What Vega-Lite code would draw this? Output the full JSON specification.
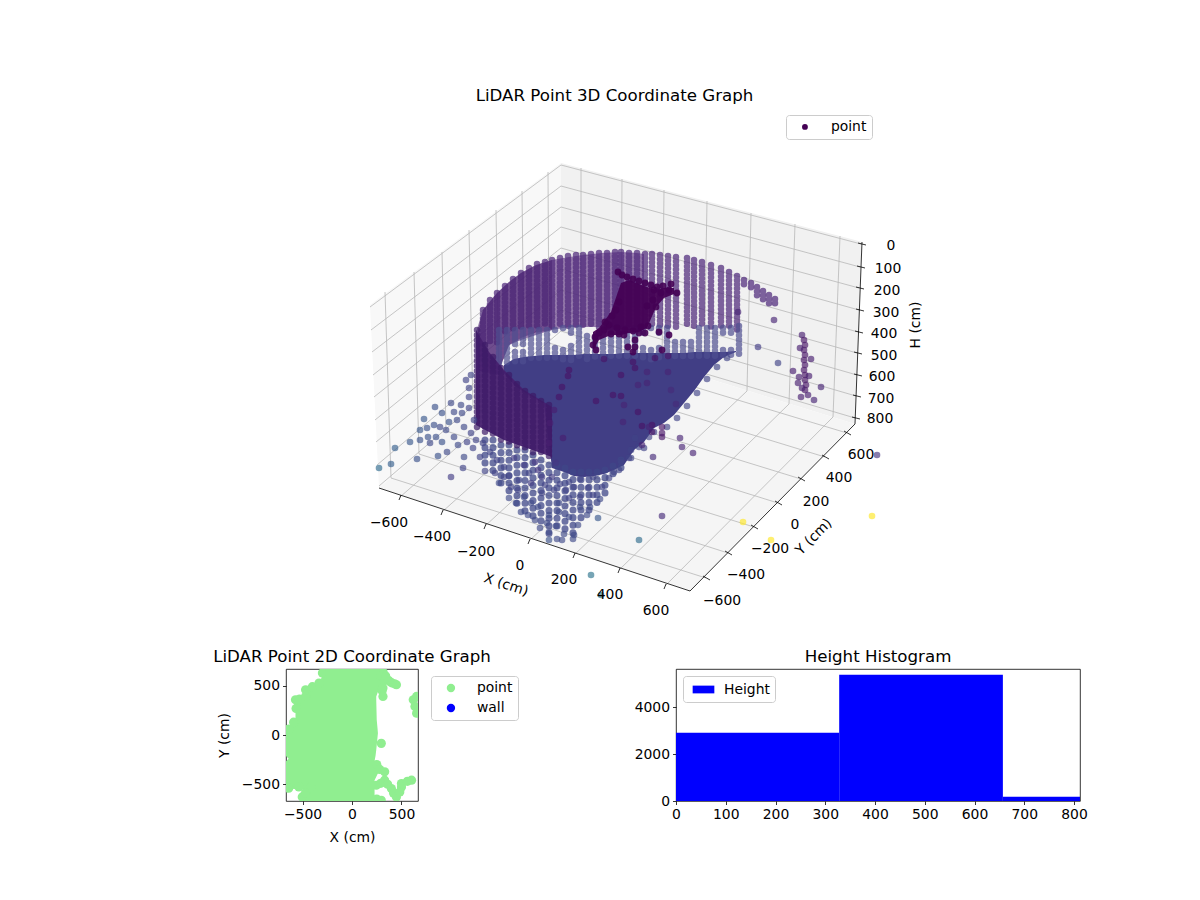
{
  "$schema": "https://vega.github.io/schema/vega-lite/v6.json",
  "background": "white",
  "padding": {"left": 212, "top": 88, "right": 0, "bottom": 50},
  "bounds": "flush",
  "spacing": 19,
  "resolve": {"scale": {"color": "independent"}},
  "config": {
    "font": "DejaVu Sans",
    "view": {"stroke": "#000", "strokeWidth": 0.8},
    "title": {"fontSize": 16.67, "fontWeight": "normal", "color": "#000", "font": "DejaVu Sans"},
    "axis": {"grid": false, "domain": false, "tickColor": "#000", "tickSize": 3.5, "tickWidth": 0.8, "labelFontSize": 13.9, "labelColor": "#000", "labelFont": "DejaVu Sans", "titleFontSize": 13.9, "titleFontWeight": "normal", "titleColor": "#000", "titleFont": "DejaVu Sans", "labelPadding": 3, "labelOverlap": false, "labelFlush": false},
    "legend": {"labelFontSize": 13.9, "labelColor": "#000", "labelFont": "DejaVu Sans", "fillColor": "#fff", "strokeColor": "#ccc", "cornerRadius": 3}
  },
  "datasets": {
    "grid": [
      {"x":582,"y":168,"x2":582,"y2":339},{"x":623,"y":179,"x2":622,"y2":352},{"x":665,"y":190,"x2":663,"y2":364},{"x":708,"y":201,"x2":705,"y2":377},{"x":752,"y":213,"x2":748,"y2":391},{"x":796,"y":224,"x2":790,"y2":404},{"x":841,"y":236,"x2":834,"y2":417},
      {"x":386,"y":292,"x2":392,"y2":478},{"x":415,"y":272,"x2":420,"y2":454},{"x":443,"y":252,"x2":447,"y2":431},{"x":470,"y":230,"x2":474,"y2":408},{"x":497,"y":210,"x2":500,"y2":386},{"x":523,"y":191,"x2":525,"y2":365},{"x":549,"y":172,"x2":550,"y2":343},
      {"x":401,"y":497,"x2":582,"y2":339},{"x":443,"y":512,"x2":622,"y2":352},{"x":486,"y":526,"x2":663,"y2":364},{"x":530,"y":541,"x2":705,"y2":377},{"x":575,"y":555,"x2":748,"y2":391},{"x":620,"y":570,"x2":790,"y2":404},{"x":666,"y":586,"x2":834,"y2":417},
      {"x":707,"y":578,"x2":392,"y2":478},{"x":729,"y":553,"x2":420,"y2":454},{"x":755,"y":527,"x2":447,"y2":431},{"x":779,"y":503,"x2":474,"y2":408},{"x":802,"y":479,"x2":500,"y2":386},{"x":826,"y":457,"x2":525,"y2":365},{"x":848,"y":433,"x2":550,"y2":343},
      {"x":862,"y":244,"x2":562,"y2":165},{"x":861,"y":267,"x2":562,"y2":186},{"x":860,"y":288,"x2":562,"y2":207},{"x":860,"y":310,"x2":562,"y2":227},{"x":859,"y":332,"x2":562,"y2":248},{"x":858,"y":353,"x2":562,"y2":269},{"x":858,"y":375,"x2":562,"y2":290},{"x":857,"y":396,"x2":562,"y2":310},{"x":856,"y":418,"x2":562,"y2":331},
      {"x":371,"y":307,"x2":562,"y2":165},{"x":372,"y":330,"x2":562,"y2":186},{"x":373,"y":352,"x2":562,"y2":207},{"x":374,"y":375,"x2":562,"y2":227},{"x":375,"y":397,"x2":562,"y2":248},{"x":376,"y":420,"x2":562,"y2":269},{"x":377,"y":442,"x2":562,"y2":290},{"x":378,"y":465,"x2":562,"y2":310},{"x":380,"y":486,"x2":562,"y2":331}
    ],
    "axes": [
      {"x":380,"y":488,"x2":691,"y2":591},{"x":691,"y":591,"x2":856,"y2":424},{"x":863,"y":242,"x2":856,"y2":424},
      {"x":402,"y":495,"x2":400,"y2":500},{"x":444,"y":510,"x2":442,"y2":515},{"x":487,"y":524,"x2":485,"y2":529},{"x":531,"y":539,"x2":529,"y2":544},{"x":576,"y":553,"x2":574,"y2":558},{"x":621,"y":568,"x2":619,"y2":573},{"x":667,"y":584,"x2":665,"y2":589},
      {"x":704,"y":576,"x2":711,"y2":580},{"x":726,"y":551,"x2":733,"y2":555},{"x":752,"y":525,"x2":759,"y2":529},{"x":776,"y":501,"x2":783,"y2":505},{"x":799,"y":477,"x2":806,"y2":481},{"x":823,"y":455,"x2":830,"y2":459},{"x":845,"y":431,"x2":852,"y2":435},
      {"x":859,"y":243,"x2":867,"y2":245},{"x":858,"y":266,"x2":866,"y2":268},{"x":857,"y":287,"x2":865,"y2":289},{"x":857,"y":309,"x2":865,"y2":311},{"x":856,"y":331,"x2":864,"y2":333},{"x":855,"y":352,"x2":863,"y2":354},{"x":855,"y":374,"x2":863,"y2":376},{"x":854,"y":395,"x2":862,"y2":397},{"x":853,"y":417,"x2":861,"y2":419}
    ],
    "ticklabels": [
      {"x":390,"y":523,"t":"−600"},{"x":433,"y":537,"t":"−400"},{"x":477,"y":552,"t":"−200"},{"x":521,"y":566,"t":"0"},{"x":565,"y":580,"t":"200"},{"x":611,"y":595,"t":"400"},{"x":657,"y":611,"t":"600"},
      {"x":723,"y":601,"t":"−600"},{"x":747,"y":575,"t":"−400"},{"x":771,"y":549,"t":"−200"},{"x":796,"y":525,"t":"0"},{"x":817,"y":502,"t":"200"},{"x":840,"y":478,"t":"400"},{"x":862,"y":455,"t":"600"},
      {"x":892,"y":246,"t":"0"},{"x":889,"y":269,"t":"100"},{"x":888,"y":291,"t":"200"},{"x":887,"y":313,"t":"300"},{"x":885,"y":334,"t":"400"},{"x":885,"y":356,"t":"500"},{"x":883,"y":377,"t":"600"},{"x":882,"y":399,"t":"700"},{"x":881,"y":419,"t":"800"}
    ],
    "wallback": [
      {"x":479,"y":330,"y2":370},{"x":484,"y":310,"y2":372},{"x":498,"y":293,"y2":375},{"x":510,"y":282,"y2":345},{"x":522,"y":273,"y2":340},{"x":537,"y":265,"y2":335},{"x":553,"y":260,"y2":330},{"x":570,"y":257,"y2":327},{"x":584,"y":255,"y2":327},{"x":603,"y":253,"y2":327},{"x":622,"y":252,"y2":327},{"x":638,"y":253,"y2":327},{"x":645,"y":254,"y2":327}
    ],
    "wallarc": [
      {"x":477,"y":332,"y2":350},{"x":484,"y":310,"y2":365},{"x":498,"y":293,"y2":375},{"x":510,"y":282,"y2":345},{"x":522,"y":273,"y2":338},{"x":535,"y":266,"y2":333},{"x":553,"y":260,"y2":330}
    ],
    "wallcols": [
      {"x":484,"y":310,"y2":345},{"x":491,"y":300,"y2":345},{"x":498,"y":293,"y2":345},{"x":506,"y":286,"y2":335},{"x":514,"y":279,"y2":330},{"x":522,"y":273,"y2":327},{"x":530,"y":268,"y2":327},{"x":538,"y":264,"y2":327},{"x":546,"y":262,"y2":327},{"x":553,"y":260,"y2":327},{"x":561,"y":258,"y2":327},{"x":569,"y":256,"y2":327},{"x":577,"y":255,"y2":327},{"x":584,"y":255,"y2":327},{"x":592,"y":254,"y2":327},{"x":600,"y":253,"y2":327},{"x":608,"y":253,"y2":327},{"x":616,"y":252,"y2":327},{"x":622,"y":252,"y2":327},{"x":630,"y":253,"y2":327},{"x":638,"y":253,"y2":327},{"x":646,"y":254,"y2":327},{"x":653,"y":254,"y2":327},{"x":661,"y":255,"y2":327},{"x":669,"y":256,"y2":327},{"x":677,"y":257,"y2":327},{"x":688,"y":258,"y2":327},{"x":695,"y":260,"y2":327},{"x":703,"y":262,"y2":327},{"x":712,"y":265,"y2":327},{"x":722,"y":268,"y2":327},{"x":730,"y":272,"y2":328},{"x":738,"y":276,"y2":330},{"x":745,"y":280,"y2":288},{"x":752,"y":283,"y2":290},{"x":758,"y":287,"y2":296},{"x":764,"y":291,"y2":300},{"x":770,"y":295,"y2":304},{"x":776,"y":299,"y2":306}
    ],
    "band": [
      {"x":500,"y":330,"y2":372},{"x":508,"y":330,"y2":366},{"x":516,"y":330,"y2":345},{"x":516,"y":352,"y2":362},{"x":524,"y":330,"y2":345},{"x":524,"y":352,"y2":362},{"x":532,"y":330,"y2":361},{"x":540,"y":330,"y2":360},{"x":548,"y":330,"y2":360},{"x":556,"y":330,"y2":333},{"x":556,"y":348,"y2":360},{"x":564,"y":350,"y2":360},{"x":564,"y":328,"y2":331},{"x":572,"y":328,"y2":334},{"x":572,"y":346,"y2":360},{"x":580,"y":328,"y2":360},{"x":588,"y":336,"y2":360},{"x":596,"y":338,"y2":360},{"x":604,"y":334,"y2":360},{"x":612,"y":328,"y2":360},{"x":620,"y":328,"y2":360},{"x":628,"y":328,"y2":360},{"x":636,"y":328,"y2":360},{"x":644,"y":328,"y2":334},{"x":644,"y":348,"y2":360},{"x":652,"y":350,"y2":360},{"x":652,"y":328,"y2":331},{"x":660,"y":328,"y2":334},{"x":660,"y":348,"y2":360},{"x":668,"y":328,"y2":360},{"x":676,"y":342,"y2":360},{"x":684,"y":342,"y2":360},{"x":692,"y":342,"y2":360},{"x":700,"y":328,"y2":360},{"x":708,"y":328,"y2":358},{"x":716,"y":328,"y2":358},{"x":724,"y":328,"y2":336},{"x":724,"y":350,"y2":358},{"x":732,"y":328,"y2":334},{"x":732,"y":350,"y2":357},{"x":740,"y":326,"y2":358}
    ],
    "lowcols": [
      {"x":486,"y":440,"y2":465},{"x":494,"y":440,"y2":472},{"x":502,"y":445,"y2":490},{"x":510,"y":445,"y2":498},{"x":518,"y":450,"y2":505},{"x":526,"y":450,"y2":513},{"x":534,"y":455,"y2":520},{"x":542,"y":460,"y2":527},{"x":550,"y":465,"y2":535},{"x":558,"y":465,"y2":530},{"x":566,"y":468,"y2":535},{"x":574,"y":472,"y2":535},{"x":582,"y":472,"y2":525},{"x":590,"y":472,"y2":515},{"x":598,"y":472,"y2":510},{"x":606,"y":470,"y2":495},{"x":614,"y":466,"y2":480},{"x":622,"y":460,"y2":472}
    ],
    "floor": [
      {"x":505,"y":365,"y2":373},{"x":515,"y":359,"y2":385},{"x":525,"y":357,"y2":392},{"x":535,"y":356,"y2":398},{"x":545,"y":355,"y2":404},{"x":553,"y":355,"y2":468},{"x":565,"y":355,"y2":472},{"x":575,"y":355,"y2":476},{"x":585,"y":354,"y2":477},{"x":595,"y":354,"y2":476},{"x":605,"y":354,"y2":474},{"x":615,"y":354,"y2":470},{"x":625,"y":353,"y2":465},{"x":635,"y":353,"y2":450},{"x":645,"y":353,"y2":442},{"x":655,"y":353,"y2":428},{"x":665,"y":353,"y2":423},{"x":675,"y":353,"y2":415},{"x":685,"y":353,"y2":403},{"x":695,"y":352,"y2":391},{"x":705,"y":352,"y2":377},{"x":715,"y":352,"y2":365},{"x":725,"y":352,"y2":357},{"x":737,"y":351,"y2":352}
    ],
    "wallleft": [
      {"x":477,"y":330,"y2":425},{"x":490,"y":352,"y2":432},{"x":505,"y":370,"y2":440},{"x":525,"y":390,"y2":447},{"x":553,"y":407,"y2":457}
    ],
    "leftcols": [
      {"x":478,"y":330,"y2":428},{"x":486,"y":345,"y2":433},{"x":494,"y":357,"y2":436},{"x":502,"y":368,"y2":441},{"x":510,"y":375,"y2":444},{"x":518,"y":384,"y2":448},{"x":526,"y":391,"y2":450},{"x":534,"y":396,"y2":453},{"x":542,"y":401,"y2":456},{"x":550,"y":405,"y2":459}
    ],
    "pts": [
      {"x":380,"y":468,"c":0.34},{"x":392,"y":464,"c":0.3},{"x":396,"y":448,"c":0.3},{"x":411,"y":442,"c":0.27},{"x":418,"y":459,"c":0.25},{"x":421,"y":430,"c":0.27},{"x":421,"y":440,"c":0.25},{"x":425,"y":419,"c":0.27},{"x":429,"y":437,"c":0.25},{"x":431,"y":443,"c":0.22},{"x":439,"y":456,"c":0.25},{"x":436,"y":407,"c":0.25},{"x":443,"y":413,"c":0.25},{"x":441,"y":427,"c":0.22},{"x":443,"y":442,"c":0.25},{"x":448,"y":452,"c":0.22},{"x":452,"y":477,"c":0.18},{"x":450,"y":422,"c":0.25},{"x":455,"y":412,"c":0.22},{"x":462,"y":405,"c":0.22},{"x":463,"y":413,"c":0.22},{"x":465,"y":427,"c":0.22},{"x":465,"y":457,"c":0.22},{"x":464,"y":468,"c":0.2},{"x":470,"y":388,"c":0.2},{"x":470,"y":397,"c":0.2},{"x":472,"y":433,"c":0.2},{"x":474,"y":448,"c":0.2},{"x":481,"y":457,"c":0.2},{"x":486,"y":471,"c":0.2},{"x":496,"y":473,"c":0.2},{"x":477,"y":440,"c":0.2},{"x":484,"y":443,"c":0.2},{"x":491,"y":452,"c":0.2},{"x":498,"y":460,"c":0.2},{"x":505,"y":467,"c":0.2},{"x":500,"y":483,"c":0.22},{"x":505,"y":477,"c":0.2},{"x":512,"y":487,"c":0.2},{"x":510,"y":498,"c":0.22},{"x":517,"y":503,"c":0.22},{"x":522,"y":512,"c":0.22},{"x":529,"y":515,"c":0.22},{"x":536,"y":520,"c":0.22},{"x":541,"y":528,"c":0.22},{"x":550,"y":540,"c":0.25},{"x":558,"y":539,"c":0.22},{"x":563,"y":540,"c":0.22},{"x":574,"y":539,"c":0.22},{"x":565,"y":534,"c":0.22},{"x":575,"y":535,"c":0.22},{"x":550,"y":532,"c":0.22},{"x":557,"y":526,"c":0.22},{"x":548,"y":523,"c":0.22},{"x":539,"y":507,"c":0.22},{"x":550,"y":515,"c":0.22},{"x":560,"y":512,"c":0.22},{"x":570,"y":517,"c":0.22},{"x":579,"y":525,"c":0.22},{"x":588,"y":515,"c":0.22},{"x":599,"y":518,"c":0.27},{"x":581,"y":507,"c":0.22},{"x":591,"y":507,"c":0.22},{"x":570,"y":498,"c":0.2},{"x":560,"y":503,"c":0.22},{"x":581,"y":497,"c":0.2},{"x":601,"y":499,"c":0.22},{"x":594,"y":495,"c":0.2},{"x":603,"y":487,"c":0.2},{"x":589,"y":488,"c":0.2},{"x":575,"y":487,"c":0.2},{"x":567,"y":490,"c":0.2},{"x":555,"y":490,"c":0.2},{"x":543,"y":493,"c":0.2},{"x":532,"y":503,"c":0.22},{"x":525,"y":497,"c":0.22},{"x":519,"y":490,"c":0.2},{"x":553,"y":477,"c":0.18},{"x":543,"y":477,"c":0.18},{"x":532,"y":483,"c":0.18},{"x":570,"y":482,"c":0.2},{"x":594,"y":477,"c":0.2},{"x":581,"y":479,"c":0.2},{"x":557,"y":463,"c":0.16},{"x":539,"y":470,"c":0.16},{"x":515,"y":458,"c":0.18},{"x":525,"y":465,"c":0.18},{"x":510,"y":476,"c":0.2},{"x":520,"y":480,"c":0.2},{"x":530,"y":473,"c":0.2},{"x":546,"y":485,"c":0.2},{"x":561,"y":484,"c":0.2},{"x":536,"y":462,"c":0.16},{"x":615,"y":472,"c":0.2},{"x":622,"y":462,"c":0.2},{"x":630,"y":458,"c":0.2},{"x":632,"y":450,"c":0.2},{"x":640,"y":447,"c":0.2},
      {"x":447,"y":430,"c":0.22},{"x":455,"y":437,"c":0.22},{"x":459,"y":445,"c":0.22},{"x":468,"y":442,"c":0.2},{"x":452,"y":403,"c":0.22},{"x":458,"y":420,"c":0.22},{"x":470,"y":408,"c":0.2},{"x":475,"y":420,"c":0.2},{"x":467,"y":380,"c":0.2},{"x":472,"y":375,"c":0.2},{"x":437,"y":437,"c":0.24},{"x":435,"y":425,"c":0.24},{"x":428,"y":428,"c":0.25},
      {"x":655,"y":432,"c":0.2},{"x":668,"y":427,"c":0.2},{"x":678,"y":418,"c":0.2},{"x":688,"y":406,"c":0.2},{"x":698,"y":393,"c":0.2},{"x":708,"y":379,"c":0.2},{"x":718,"y":367,"c":0.2},{"x":728,"y":358,"c":0.2},{"x":620,"y":470,"c":0.2},{"x":632,"y":458,"c":0.2},{"x":645,"y":448,"c":0.2},{"x":610,"y":478,"c":0.2},{"x":636,"y":438,"c":0.2},{"x":650,"y":437,"c":0.2},
      {"x":663,"y":516,"c":0.12},{"x":640,"y":540,"c":0.35},{"x":592,"y":575,"c":0.38},{"x":602,"y":595,"c":0.38},{"x":744,"y":522,"c":1},{"x":772,"y":540,"c":1},{"x":873,"y":516,"c":1},{"x":878,"y":455,"c":0.15},
      {"x":681,"y":438,"c":0.1},{"x":683,"y":447,"c":0.1},{"x":694,"y":453,"c":0.1},{"x":654,"y":457,"c":0.12},{"x":663,"y":427,"c":0.05},{"x":663,"y":433,"c":0.05},{"x":663,"y":437,"c":0.05},{"x":653,"y":425,"c":0.05},{"x":653,"y":432,"c":0.05},{"x":643,"y":426,"c":0.05},{"x":643,"y":445,"c":0.1},
      {"x":570,"y":370,"c":0.05},{"x":569,"y":376,"c":0.05},{"x":563,"y":387,"c":0.05},{"x":560,"y":397,"c":0.05},{"x":555,"y":410,"c":0.08},{"x":551,"y":423,"c":0.08},{"x":550,"y":443,"c":0.08},{"x":564,"y":438,"c":0.08},{"x":597,"y":401,"c":0.05},{"x":614,"y":395,"c":0.05},{"x":622,"y":396,"c":0.05},{"x":622,"y":375,"c":0.05},{"x":648,"y":372,"c":0.1},{"x":634,"y":362,"c":0.05},{"x":636,"y":368,"c":0.05},{"x":605,"y":359,"c":0.05},{"x":656,"y":358,"c":0.05},{"x":669,"y":356,"c":0.05},{"x":669,"y":372,"c":0.1},{"x":639,"y":385,"c":0.1},{"x":648,"y":383,"c":0.1},{"x":672,"y":390,"c":0.12},{"x":677,"y":404,"c":0.12},{"x":639,"y":412,"c":0.05},{"x":625,"y":405,"c":0.1},{"x":624,"y":422,"c":0.1},{"x":650,"y":427,"c":0.1},
      {"x":775,"y":320,"c":0.1},{"x":759,"y":347,"c":0.18},{"x":779,"y":363,"c":0.2},{"x":822,"y":387,"c":0.1},{"x":815,"y":400,"c":0.1},{"x":739,"y":312,"c":0.1},
      {"x":803,"y":335,"c":0.08},{"x":805,"y":340,"c":0.05},{"x":806,"y":345,"c":0.05},{"x":805,"y":350,"c":0.05},{"x":806,"y":355,"c":0.05},{"x":805,"y":360,"c":0.05},{"x":806,"y":365,"c":0.05},{"x":805,"y":370,"c":0.05},{"x":806,"y":375,"c":0.05},{"x":806,"y":380,"c":0.05},{"x":807,"y":385,"c":0.05},{"x":806,"y":390,"c":0.05},{"x":802,"y":397,"c":0.08},{"x":809,"y":395,"c":0.08},{"x":794,"y":371,"c":0.08},{"x":800,"y":377,"c":0.08},{"x":812,"y":359,"c":0.08},{"x":810,"y":376,"c":0.08},{"x":801,"y":348,"c":0.08},{"x":799,"y":383,"c":0.08},{"x":803,"y":388,"c":0.08}
    ],
    "blobfill": [
      {"x":594,"y":332,"y2":350},{"x":600,"y":328,"y2":340},{"x":612,"y":312,"y2":335},{"x":622,"y":283,"y2":335},{"x":630,"y":280,"y2":333},{"x":640,"y":284,"y2":332},{"x":648,"y":287,"y2":328},{"x":657,"y":290,"y2":307},{"x":665,"y":288,"y2":298},{"x":675,"y":288,"y2":294}
    ],
    "blob": [
      {"x":619,"y":272},{"x":623,"y":275},{"x":628,"y":277},{"x":634,"y":279},{"x":640,"y":281},{"x":646,"y":283},{"x":652,"y":285},{"x":658,"y":287},{"x":664,"y":286},{"x":672,"y":284},{"x":678,"y":293},{"x":670,"y":290},{"x":662,"y":293},{"x":655,"y":290},{"x":654,"y":300},{"x":648,"y":306},{"x":620,"y":302},{"x":617,"y":310},{"x":613,"y":316},{"x":642,"y":327},{"x":634,"y":331},{"x":626,"y":330},{"x":618,"y":328},{"x":610,"y":325},{"x":605,"y":330},{"x":600,"y":333},{"x":596,"y":337},{"x":594,"y":345},{"x":597,"y":350},{"x":612,"y":334},{"x":620,"y":334},{"x":606,"y":322},{"x":657,"y":307},{"x":640,"y":333},{"x":649,"y":326},{"x":625,"y":335},{"x":636,"y":340},{"x":646,"y":333},{"x":660,"y":332},{"x":670,"y":335},{"x":629,"y":347},{"x":634,"y":352},{"x":636,"y":347},{"x":663,"y":350}
    ],
    "cloud": [
      {"y":670,"x":-282,"x2":313},{"y":600,"x":-299,"x2":296},{"y":527,"x":-333,"x2":290},{"y":459,"x":-469,"x2":270},{"y":391,"x":-469,"x2":245},{"y":357,"x":-571,"x2":245},{"y":153,"x":-571,"x2":250},{"y":68,"x":-670,"x2":258},{"y":17,"x":-670,"x2":262},{"y":-153,"x":-670,"x2":245},{"y":-210,"x":-670,"x2":238},{"y":-240,"x":-640,"x2":232},{"y":-270,"x":-670,"x2":228},{"y":-374,"x":-670,"x2":270},{"y":-459,"x":-670,"x2":228},{"y":-540,"x":-670,"x2":228},{"y":-560,"x":-440,"x2":228},{"y":-629,"x":-503,"x2":228},{"y":-670,"x":-503,"x2":228}
    ],
    "edge": [
      {"x":-640,"y":60},{"x":-590,"y":130},{"x":-565,"y":270},{"x":-571,"y":357},{"x":-530,"y":365},{"x":-469,"y":391},{"x":-469,"y":459},{"x":-400,"y":490},{"x":-333,"y":527},{"x":-299,"y":629},{"x":313,"y":640},{"x":296,"y":595},{"x":340,"y":600},{"x":360,"y":560},{"x":381,"y":544},{"x":400,"y":530},{"x":430,"y":520},{"x":449,"y":510},{"x":340,"y":570},{"x":300,"y":520},{"x":305,"y":450},{"x":313,"y":476},{"x":313,"y":391},{"x":296,"y":-85},{"x":250,"y":-300},{"x":330,"y":-374},{"x":280,"y":-350},{"x":245,"y":-510},{"x":330,"y":-459},{"x":290,"y":-490},{"x":360,"y":-500},{"x":398,"y":-544},{"x":420,"y":-590},{"x":449,"y":-629},{"x":483,"y":-578},{"x":500,"y":-527},{"x":500,"y":-493},{"x":560,"y":-470},{"x":602,"y":-459},{"x":296,"y":-663},{"x":250,"y":-650},{"x":619,"y":357},{"x":653,"y":391},{"x":636,"y":289},{"x":653,"y":221},{"x":-418,"y":-527},{"x":-537,"y":-527},{"x":-640,"y":-540},{"x":-503,"y":-629},{"x":-470,"y":-590}
    ]
  },
  "vconcat": [
    {
      "width": 913,
      "height": 540,
      "view": {"stroke": null},
      "title": {"text": "LiDAR Point 3D Coordinate Graph", "anchor": "middle", "dx": -128, "offset": 5},
      "encoding": {
        "x": {"field": "x", "type": "quantitative", "scale": {"domain": [287, 1200], "nice": false, "zero": false}, "axis": null},
        "y": {"field": "y", "type": "quantitative", "scale": {"domain": [650, 110], "nice": false, "zero": false}, "axis": null}
      },
      "layer": [
        {"data": {"values": [{"x":371,"y":305,"y2":305},{"x":380,"y":298,"y2":488},{"x":562,"y":163,"y2":333}]}, "mark": {"type": "area", "color": "#f8f8f8"}, "encoding": {"y2": {"field": "y2"}}},
        {"data": {"values": [{"x":562,"y":163,"y2":333},{"x":856,"y":240,"y2":424},{"x":863,"y":242,"y2":242}]}, "mark": {"type": "area", "color": "#f1f1f1"}, "encoding": {"y2": {"field": "y2"}}},
        {"data": {"values": [{"x":380,"y":488,"y2":488},{"x":562,"y":333,"y2":548},{"x":691,"y":373,"y2":591},{"x":856,"y":424,"y2":424}]}, "mark": {"type": "area", "color": "#f5f5f5"}, "encoding": {"y2": {"field": "y2"}}},
        {"data": {"name": "grid"}, "mark": {"type": "rule", "color": "#b8b8b8", "strokeWidth": 0.8}, "encoding": {"x2": {"field": "x2"}, "y2": {"field": "y2"}}},
        {"data": {"name": "axes"}, "mark": {"type": "rule", "color": "#000", "strokeWidth": 0.8}, "encoding": {"x2": {"field": "x2"}, "y2": {"field": "y2"}}},
        {"data": {"name": "wallback"}, "mark": {"type": "area", "color": "#55287c", "opacity": 0.6}, "encoding": {"y2": {"field": "y2"}}},
        {"data": {"name": "wallcols"}, "mark": {"type": "rule", "color": "#4f2a7c", "opacity": 0.72, "strokeWidth": 6.5, "strokeCap": "round", "strokeDash": [0.1, 4]}, "encoding": {"y2": {"field": "y2"}}},
        {"data": {"name": "wallarc"}, "mark": {"type": "area", "color": "#47206f", "opacity": 0.5}, "encoding": {"y2": {"field": "y2"}}},
        {"data": {"name": "floor"}, "mark": {"type": "area", "color": "#413e85"}, "encoding": {"y2": {"field": "y2"}}},
        {"data": {"name": "band"}, "mark": {"type": "rule", "color": "#4f4f90", "opacity": 0.7, "strokeWidth": 6.5, "strokeCap": "round", "strokeDash": [0.1, 4.5]}, "encoding": {"y2": {"field": "y2"}}},
        {"data": {"name": "lowcols"}, "mark": {"type": "rule", "color": "#3f4788", "opacity": 0.75, "strokeWidth": 7, "strokeCap": "round", "strokeDash": [0.1, 7.5]}, "encoding": {"y2": {"field": "y2"}}},
        {"data": {"name": "wallleft"}, "mark": {"type": "area", "color": "#47206f", "opacity": 0.95}, "encoding": {"y2": {"field": "y2"}}},
        {"data": {"name": "leftcols"}, "mark": {"type": "rule", "color": "#3c1a66", "opacity": 0.7, "strokeWidth": 6.5, "strokeCap": "round", "strokeDash": [0.1, 5]}, "encoding": {"y2": {"field": "y2"}}},
        {
          "data": {"name": "pts"},
          "mark": {"type": "point", "filled": true, "size": 44, "opacity": 0.65},
          "encoding": {
            "color": {"field": "c", "type": "quantitative", "scale": {"scheme": "viridis", "domain": [0, 1]}, "legend": null}
          }
        },
        {"data": {"name": "blobfill"}, "mark": {"type": "area", "color": "#440154", "opacity": 0.95}, "encoding": {"y2": {"field": "y2"}}},
        {
          "data": {"name": "blob"},
          "mark": {"type": "point", "filled": true, "size": 46, "opacity": 0.9, "color": "#440154"},
          "encoding": {
            "shape": {"datum": "point", "scale": {"domain": ["point"], "range": ["circle"]}, "legend": {"title": null, "orient": "none", "legendX": 500, "legendY": 5, "symbolFillColor": "#440154", "symbolStrokeColor": "#440154", "symbolOpacity": 1, "symbolSize": 34, "padding": 5, "symbolOffset": 7, "labelOffset": 19}}
          }
        },
        {"data": {"name": "ticklabels"}, "mark": {"type": "text", "fontSize": 13.9, "color": "#000", "align": "center", "baseline": "middle"}, "encoding": {"text": {"field": "t"}}},
        {"data": {"values": [{"x":507,"y":585,"t":"X (cm)"}]}, "mark": {"type": "text", "fontSize": 13.9, "color": "#000", "angle": 18, "align": "center", "baseline": "middle"}, "encoding": {"text": {"field": "t"}}},
        {"data": {"values": [{"x":815,"y":537,"t":"Y (cm)"}]}, "mark": {"type": "text", "fontSize": 13.9, "color": "#000", "angle": 315, "align": "center", "baseline": "middle"}, "encoding": {"text": {"field": "t"}}},
        {"data": {"values": [{"x":917,"y":325,"t":"H (cm)"}]}, "mark": {"type": "text", "fontSize": 13.9, "color": "#000", "angle": 270, "align": "center", "baseline": "middle"}, "encoding": {"text": {"field": "t"}}}
      ]
    },
    {
      "bounds": "flush",
      "spacing": 258,
      "resolve": {"scale": {"color": "independent"}},
      "hconcat": [
        {
          "width": 132,
          "height": 132,
          "title": {"text": "LiDAR Point 2D Coordinate Graph", "anchor": "middle", "offset": 3},
          "encoding": {
            "x": {"field": "x", "type": "quantitative", "title": "X (cm)", "scale": {"domain": [-667, 667], "nice": false, "zero": false}, "axis": {"values": [-500, 0, 500], "format": "d", "titlePadding": 9}},
            "y": {"field": "y", "type": "quantitative", "title": "Y (cm)", "scale": {"domain": [-670, 670], "nice": false, "zero": false}, "axis": {"values": [-500, 0, 500], "format": "d", "titlePadding": 10}}
          },
          "layer": [
            {"data": {"name": "cloud"}, "mark": {"type": "area", "orient": "horizontal", "color": "#90ee90", "clip": true}, "encoding": {"x2": {"field": "x2"}}},
            {
              "data": {"name": "edge"},
              "mark": {"type": "point", "filled": true, "size": 85, "opacity": 1, "clip": true},
              "encoding": {
                "color": {"datum": "point", "scale": {"domain": ["point", "wall"], "range": ["#90ee90", "#0000ff"]}, "legend": {"title": null, "orient": "none", "legendX": 145, "legendY": 7, "symbolType": "circle", "symbolSize": 70, "symbolOpacity": 1, "padding": 5, "rowPadding": 5, "symbolOffset": 8, "labelOffset": 19}}
              }
            }
          ]
        },
        {
          "width": 404,
          "height": 132,
          "title": {"text": "Height Histogram", "anchor": "middle", "offset": 3},
          "data": {"values": [{"a":0,"b":328,"n":2905},{"a":328,"b":657,"n":5376},{"a":657,"b":812,"n":184}]},
          "mark": {"type": "rect"},
          "encoding": {
            "x": {"field": "a", "type": "quantitative", "title": null, "scale": {"domain": [0, 812], "nice": false}, "axis": {"values": [0, 100, 200, 300, 400, 500, 600, 700, 800]}},
            "x2": {"field": "b"},
            "y": {"field": "n", "type": "quantitative", "title": null, "scale": {"domain": [0, 5620], "nice": false}, "axis": {"values": [0, 2000, 4000], "format": "d"}},
            "y2": {"datum": 0},
            "color": {"datum": "Height", "scale": {"domain": ["Height"], "range": ["#0000ff"]}, "legend": {"title": null, "orient": "none", "legendX": 7, "legendY": 7, "symbolType": "M-1.4,-0.5H1.4V0.5H-1.4Z", "symbolSize": 240, "symbolOpacity": 1, "padding": 5, "symbolOffset": 7, "labelOffset": 12}}
          }
        }
      ]
    }
  ]
}
